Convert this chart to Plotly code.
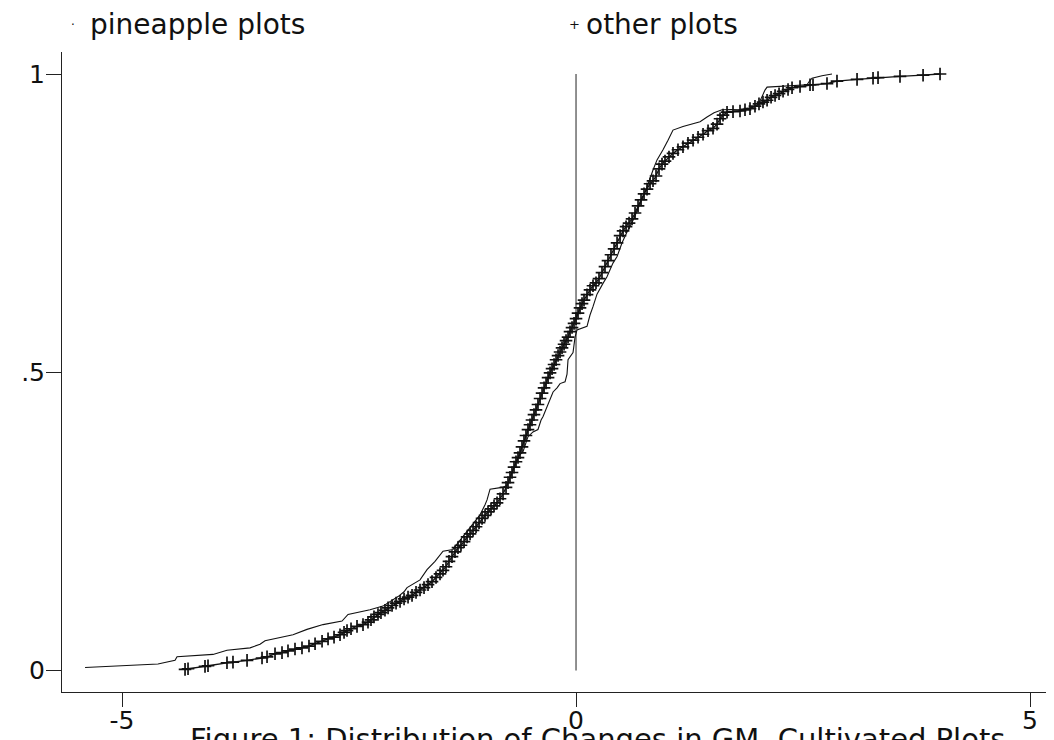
import plotly.graph_objects as go

other_x = [-4.306, -4.273, -4.086, -4.053, -3.844, -3.778, -3.623, -3.458, -3.403, -3.315,
           -3.238, -3.172, -3.095, -3.018, -2.941, -2.874, -2.797, -2.731, -2.665, -2.599,
           -2.555, -2.522, -2.478, -2.412, -2.346, -2.291, -2.258, -2.225, -2.181, -2.148,
           -2.104, -2.070, -2.026, -1.982, -1.938, -1.894, -1.850, -1.806, -1.762, -1.718,
           -1.674, -1.630, -1.586, -1.542, -1.498, -1.465, -1.432, -1.399, -1.366, -1.333,
           -1.300, -1.267, -1.233, -1.200, -1.167, -1.134, -1.101, -1.068, -1.035, -1.002,
           -0.969, -0.936, -0.903, -0.870, -0.837, -0.804, -0.771, -0.749, -0.727, -0.705,
           -0.683, -0.661, -0.639, -0.617, -0.595, -0.573, -0.551, -0.529, -0.507, -0.485,
           -0.463, -0.441, -0.419, -0.396, -0.374, -0.352, -0.330, -0.308, -0.286, -0.264,
           -0.242, -0.220, -0.198, -0.176, -0.154, -0.132, -0.110, -0.088, -0.066, -0.044,
           -0.022, 0.000, 0.022, 0.044, 0.066, 0.088, 0.121, 0.154, 0.187, 0.220,
           0.253, 0.286, 0.319, 0.352, 0.385, 0.419, 0.452, 0.485, 0.518, 0.551,
           0.584, 0.617, 0.650, 0.683, 0.716, 0.749, 0.782, 0.815, 0.848, 0.881,
           0.914, 0.947, 0.980, 1.024, 1.068, 1.123, 1.178, 1.233, 1.289, 1.344,
           1.399, 1.454, 1.509, 1.553, 1.586, 1.619, 1.663, 1.729, 1.806, 1.861,
           1.916, 1.971, 2.015, 2.059, 2.104, 2.148, 2.192, 2.236, 2.280, 2.335,
           2.379, 2.467, 2.577, 2.610, 2.764, 2.874, 3.095, 3.271, 3.326, 3.568,
           3.822, 4.009]
other_y = [0.002, 0.003, 0.007, 0.008, 0.013, 0.014, 0.017, 0.021, 0.023, 0.028,
           0.030, 0.033, 0.036, 0.038, 0.041, 0.045, 0.049, 0.053, 0.056, 0.060,
           0.064, 0.067, 0.070, 0.074, 0.077, 0.081, 0.085, 0.090, 0.094, 0.097,
           0.101, 0.105, 0.109, 0.113, 0.116, 0.120, 0.123, 0.126, 0.131, 0.135,
           0.139, 0.144, 0.149, 0.156, 0.162, 0.168, 0.174, 0.183, 0.191, 0.199,
           0.206, 0.210, 0.216, 0.224, 0.229, 0.235, 0.241, 0.248, 0.255, 0.260,
           0.266, 0.271, 0.276, 0.281, 0.288, 0.296, 0.307, 0.315, 0.324, 0.332,
           0.341, 0.350, 0.357, 0.365, 0.375, 0.385, 0.394, 0.404, 0.412, 0.420,
           0.429, 0.437, 0.446, 0.456, 0.465, 0.474, 0.482, 0.491, 0.499, 0.506,
           0.513, 0.521, 0.528, 0.534, 0.541, 0.547, 0.553, 0.559, 0.568, 0.575,
           0.582, 0.590, 0.599, 0.608, 0.615, 0.621, 0.630, 0.638, 0.645, 0.650,
           0.657, 0.667, 0.677, 0.687, 0.697, 0.707, 0.717, 0.729, 0.737, 0.744,
           0.750, 0.757, 0.767, 0.779, 0.789, 0.799, 0.807, 0.816, 0.821, 0.829,
           0.841, 0.849, 0.854, 0.861, 0.867, 0.873, 0.878, 0.884, 0.889, 0.894,
           0.899, 0.905, 0.909, 0.916, 0.925, 0.931, 0.936, 0.937, 0.938, 0.940,
           0.942, 0.946, 0.950, 0.953, 0.956, 0.961, 0.964, 0.967, 0.971, 0.974,
           0.977, 0.979, 0.982, 0.982, 0.984, 0.988, 0.991, 0.993, 0.994, 0.996,
           0.998, 1.000]

pine_x = [-5.407, -4.604, -4.416, -4.394, -3.998, -3.844, -3.590, -3.480, -3.425, -3.117,
          -2.963, -2.786, -2.577, -2.511, -2.269, -2.126, -1.960, -1.894, -1.861, -1.718,
          -1.641, -1.553, -1.465, -1.355, -1.300, -1.244, -1.189, -1.134, -1.057, -1.002,
          -0.980, -0.947, -0.815, -0.760, -0.727, -0.694, -0.661, -0.617, -0.584, -0.529,
          -0.474, -0.419, -0.385, -0.363, -0.319, -0.253, -0.209, -0.176, -0.121, -0.099,
          -0.088, -0.033, -0.011, 0.011, 0.121, 0.154, 0.187, 0.231, 0.297, 0.341,
          0.407, 0.452, 0.507, 0.529, 0.573, 0.628, 0.683, 0.738, 0.771, 0.815,
          0.848, 0.892, 0.925, 0.958, 1.013, 1.068, 1.178, 1.278, 1.366, 1.443,
          1.520, 1.608, 1.806, 1.916, 1.982, 2.015, 2.048, 2.081, 2.104, 2.357,
          2.544, 2.566, 2.599, 2.709, 2.819]
pine_y = [0.005, 0.011, 0.017, 0.023, 0.027, 0.034, 0.038, 0.044, 0.050, 0.060,
          0.069, 0.077, 0.083, 0.094, 0.102, 0.108, 0.124, 0.132, 0.139, 0.152,
          0.169, 0.183, 0.200, 0.203, 0.214, 0.225, 0.236, 0.247, 0.261, 0.278,
          0.286, 0.304, 0.307, 0.310, 0.323, 0.337, 0.350, 0.362, 0.367, 0.392,
          0.400, 0.404, 0.420, 0.426, 0.443, 0.467, 0.474, 0.481, 0.484, 0.497,
          0.521, 0.533, 0.559, 0.571, 0.577, 0.596, 0.610, 0.631, 0.649, 0.660,
          0.683, 0.694, 0.717, 0.725, 0.739, 0.755, 0.776, 0.794, 0.806, 0.826,
          0.839, 0.856, 0.864, 0.873, 0.889, 0.906, 0.912, 0.916, 0.920, 0.928,
          0.935, 0.940, 0.941, 0.943, 0.946, 0.951, 0.963, 0.973, 0.978, 0.980,
          0.982, 0.987, 0.993, 0.997, 1.000]

ref_x = [0, 0]
ref_y = [0, 1]

x_ticks = [-5, 0, 5]
x_ticktext = ["-5", "0", "5"]
y_ticks = [0, 0.5, 1]
y_ticktext = ["0", ".5", "1"]

series_names = ["pineapple plots", "other plots"]
title_text = "Figure 1: Distribution of Changes in GM, Cultivated Plots"

FONT = "DejaVu Sans"
INK = "#111111"
AX = "#222222"

fig = go.Figure()
fig.add_trace(go.Scatter(x=ref_x, y=ref_y, mode="lines",
                         line=dict(color=AX, width=1), showlegend=False, hoverinfo="skip"))
fig.add_trace(go.Scatter(x=pine_x, y=pine_y, mode="lines", name=series_names[0],
                         line=dict(color=INK, width=1.1), showlegend=False))
fig.add_trace(go.Scatter(x=other_x, y=other_y, mode="lines+markers", name=series_names[1],
                         line=dict(color=INK, width=1.3),
                         marker=dict(symbol="cross-thin", size=9,
                                     line=dict(color=INK, width=1.7)),
                         showlegend=False))

# page body has an 8px margin, so the figure is drawn 8px smaller and offset
OFF = 8
W, H = 1054 - OFF, 740 - OFF
L, R, T, B = 62 - OFF, 0, 52 - OFF, 48
pw = W - L - R
ph = H - T - B

def px_x(p):
    return (p - OFF - L) / pw

def px_y(p):
    return (H - B - (p - OFF)) / ph

annotations = [
    dict(text="·", x=px_x(73), y=px_y(25), xref="paper", yref="paper",
         xanchor="center", yanchor="middle", showarrow=False,
         font=dict(family=FONT, size=12, color=INK)),
    dict(text=series_names[0], x=px_x(88), y=px_y(24), xref="paper", yref="paper",
         xanchor="left", yanchor="middle", showarrow=False,
         font=dict(family=FONT, size=28, color=INK)),
    dict(text="+", x=px_x(574), y=px_y(25), xref="paper", yref="paper",
         xanchor="center", yanchor="middle", showarrow=False,
         font=dict(family=FONT, size=13, color=INK)),
    dict(text=series_names[1], x=px_x(584), y=px_y(24), xref="paper", yref="paper",
         xanchor="left", yanchor="middle", showarrow=False,
         font=dict(family=FONT, size=28, color=INK)),
    dict(text=title_text, x=px_x(597), y=px_y(720), xref="paper", yref="paper",
         xanchor="center", yanchor="top", showarrow=False,
         font=dict(family=FONT, size=29, color=INK)),
]

fig.update_layout(
    width=W, height=H,
    margin=dict(l=L, r=R, t=T, b=B, pad=0),
    paper_bgcolor="white", plot_bgcolor="white",
    showlegend=False,
    annotations=annotations,
    font=dict(family=FONT, color=INK),
)
fig.update_xaxes(range=[-5.661, 5.264], tickvals=x_ticks, ticktext=x_ticktext,
                 showgrid=False, zeroline=False, showline=True, linecolor=AX,
                 linewidth=1, ticks="outside", ticklen=14, tickwidth=1, tickcolor=AX,
                 ticklabelstandoff=-8,
                 tickfont=dict(family=FONT, size=25, color=INK))
fig.update_yaxes(range=[-0.036, 1.0369], tickvals=y_ticks, ticktext=y_ticktext,
                 showgrid=False, zeroline=False, showline=True, linecolor=AX,
                 linewidth=1, ticks="outside", ticklen=15, tickwidth=1, tickcolor=AX,
                 ticklabelstandoff=-4,
                 tickfont=dict(family=FONT, size=25, color=INK))

fig.write_html("out.html")
